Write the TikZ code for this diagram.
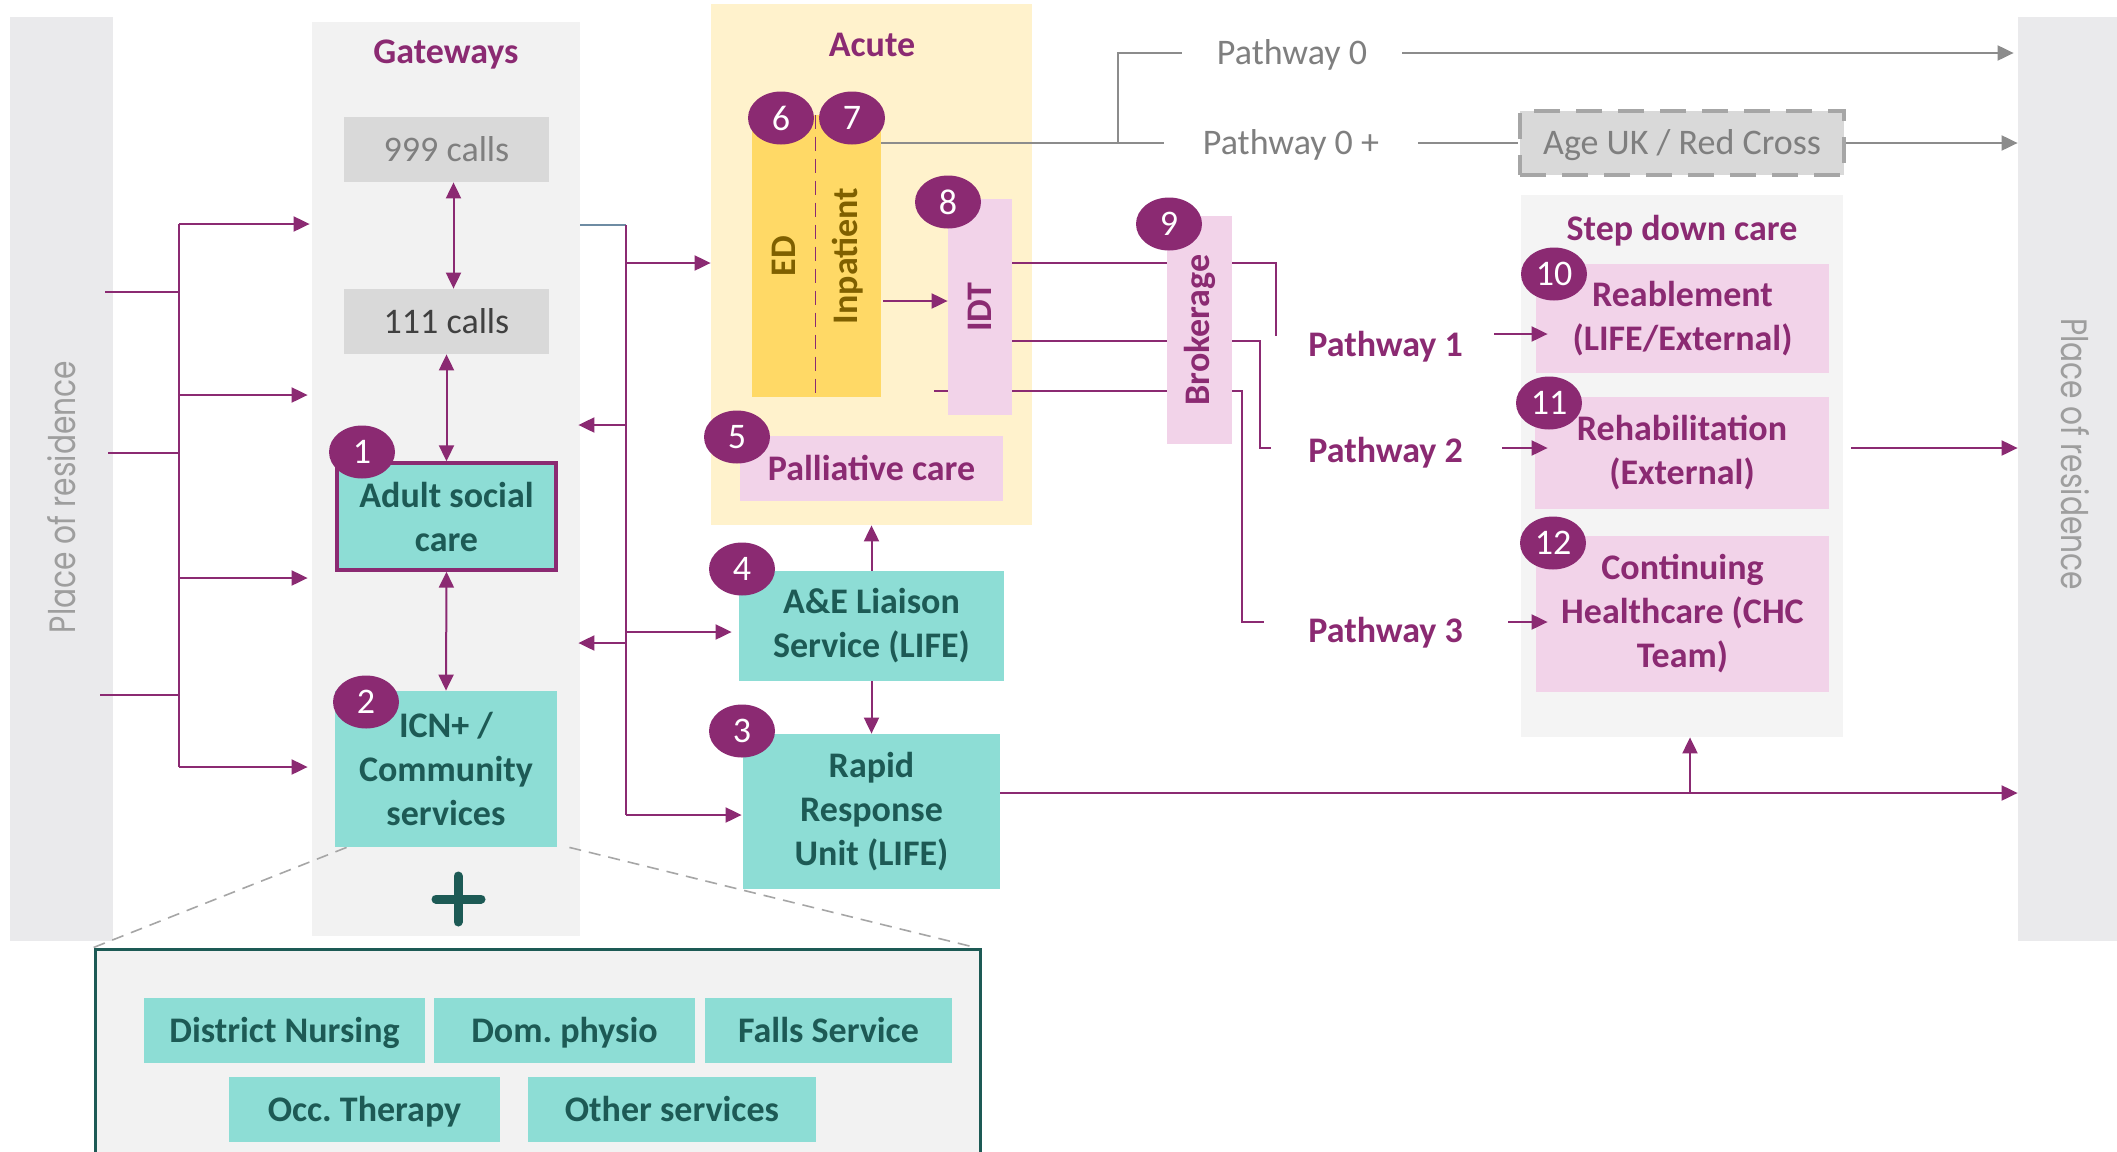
\documentclass[tikz,border=0pt]{standalone}
\usepackage{fontspec}
\usepackage{graphicx}
\setmainfont{Carlito}
\newfontfamily\residencefont{Poppins}
\usetikzlibrary{arrows.meta,shapes.geometric}

\pgfdeclarelayer{panels}
\pgfdeclarelayer{wires}
\pgfsetlayers{panels,wires,main}

\definecolor{plum}{HTML}{8B2A72}
\definecolor{tealfill}{HTML}{8DDDD5}
\definecolor{tealtext}{HTML}{1D5A55}
\definecolor{pinkfill}{HTML}{F2D3E9}
\definecolor{acutefill}{HTML}{FFF2CC}
\definecolor{edfill}{HTML}{FFD966}
\definecolor{edtext}{HTML}{7F6000}
\definecolor{panelgray}{HTML}{F2F2F2}
\definecolor{stepgray}{HTML}{F4F4F4}
\definecolor{bargray}{HTML}{EAEAEC}
\definecolor{callgray}{HTML}{D9D9D9}
\definecolor{wiregray}{HTML}{8C8C8C}
\definecolor{greytext}{HTML}{7F7F7F}
\definecolor{darktext}{HTML}{404040}
\definecolor{dashgray}{HTML}{A6A6A6}
\definecolor{resgray}{HTML}{9E9E9E}
\definecolor{slate}{HTML}{6E8CA3}

% box given by its corners (x1,y1) and (x2,y2) in pixel units
\newcommand\rectnode[7]{%
  \node[#6, minimum width={(#4-#2)*0.5pt}, minimum height={(#5-#3)*0.5pt}]
    (#1) at ({(#2+#4)/2},{(#3+#5)/2}) {#7};}

\newcommand\bodyfont{\fontsize{18}{22}\selectfont}

\tikzset{
  txt/.style={inner sep=0pt, align=center, font=\bodyfont},
  oneline/.style={text height=11.6pt, text depth=0pt},
  panelbox/.style={inner sep=0pt, fill=#1},
  tealbox/.style={txt, fill=tealfill, text=tealtext, font=\bodyfont\bfseries},
  pinkbox/.style={txt, fill=pinkfill, text=plum, font=\bodyfont\bfseries},
  callbox/.style={txt, oneline, fill=callgray, text=#1},
  badge/.style={ellipse, fill=plum, text=white, inner sep=0pt,
    minimum width=33pt, minimum height=26.5pt, font=\bodyfont},
  heading/.style={inner sep=0pt, anchor=base, text=plum, font=\bodyfont\bfseries},
  pathlbl/.style={inner sep=0pt, anchor=west, oneline, text=plum, font=\bodyfont\bfseries},
  greylbl/.style={inner ysep=0pt, oneline, text=greytext, font=\bodyfont},
  vlabel/.style={inner sep=0pt, rotate=90, font=\bodyfont\bfseries, text=#1},
  wire/.style={draw=plum, line width=1pt},
  fwd/.style={wire, -{Triangle[length=8pt,width=7.5pt]}},
  twoway/.style={wire, {Triangle[length=8pt,width=7.5pt]}-{Triangle[length=8pt,width=7.5pt]}},
  greywire/.style={draw=wiregray, line width=1pt},
  greyfwd/.style={greywire, -{Triangle[length=8pt,width=7.5pt]}},
  zoomline/.style={draw=dashgray, line width=0.8pt, dash pattern=on 6pt off 4pt},
}

\begin{document}
\begin{tikzpicture}[x=0.5pt,y=-0.5pt]
\useasboundingbox (0,0) rectangle (2117,1152);

% ---------- background panels ----------
\begin{pgfonlayer}{panels}
  \fill[white] (0,0) rectangle (2117,1152);
  \rectnode{lbar}{10}{17}{113}{941}{panelbox=bargray}{}
  \rectnode{rbar}{2018}{17}{2117}{941}{panelbox=bargray}{}
  \rectnode{gw}{312}{22}{580}{936}{panelbox=panelgray}{}
  \rectnode{acute}{711}{4}{1032}{525}{panelbox=acutefill}{}
  \rectnode{sdc}{1521}{195}{1843}{737}{panelbox=stepgray}{}
  \rectnode{extra}{95}{949}{980}{1175}{panelbox=panelgray, draw=tealtext, line width=1.5pt}{}
\end{pgfonlayer}

% side labels
\node[rotate=90, inner sep=0pt, text=resgray] (lres) at (62,497)
  {\residencefont\resizebox{136pt}{14pt}{Place of residence}};
\node[rotate=-90, inner sep=0pt, text=resgray] (rres) at (2075,454)
  {\residencefont\resizebox{136pt}{14pt}{Place of residence}};

% headings
\node[heading] (gwtitle) at (446,63) {Gateways};
\node[heading] (acutetitle) at (872,56) {Acute};
\node[heading] (sdctitle) at (1682,240) {Step down care};

% ---------- gateways column ----------
\rectnode{c999}{344}{117}{549}{182}{callbox=greytext}{999 calls}
\rectnode{c111}{344}{289}{549}{354}{callbox=darktext}{111 calls}
\rectnode{asc}{337}{463}{556}{570}{tealbox, draw=plum, line width=1.7pt}{Adult social\\care}
\rectnode{icn}{335}{691}{557}{847}{tealbox}{ICN+ /\\Community\\services}
\draw[tealtext, line width=4.5pt, line cap=round] (436,899) -- (481,899) (458,876) -- (458,922);

% ---------- acute and LIFE services ----------
\rectnode{ed}{752}{115}{815}{397}{fill=edfill, inner sep=0pt}{}
\rectnode{inp}{815}{115}{881}{397}{fill=edfill, inner sep=0pt}{}
\draw[plum, line width=0.8pt, dash pattern=on 7pt off 4pt] (ed.north east) -- (ed.south east);
\node[vlabel=edtext] (edlbl) at (ed) {ED};
\node[vlabel=edtext] (inplbl) at (inp) {Inpatient};
\rectnode{idt}{948}{199}{1012}{415}{pinkbox}{}
\node[vlabel=plum] (idtlbl) at (idt) {IDT};
\rectnode{pall}{740}{436}{1003}{501}{pinkbox, oneline}{Palliative care}
\rectnode{ae}{739}{571}{1004}{681}{tealbox}{A\&E Liaison\\Service (LIFE)}
\rectnode{rru}{743}{734}{1000}{889}{tealbox}{Rapid\\Response\\Unit (LIFE)}
\rectnode{brok}{1167}{216}{1232}{444}{pinkbox}{}
\node[vlabel=plum] (broklbl) at (brok) {Brokerage};

% ---------- pathways ----------
\node[greylbl, inner xsep=17.5pt] (pz) at (1292,53) {Pathway 0};
\node[greylbl, inner xsep=19.5pt] (pzp) at (1291,143) {Pathway 0 +};
\rectnode{ageuk}{1520}{111}{1844}{175}{callbox=greytext, draw=dashgray, line width=1.7pt, dash pattern=on 13pt off 8pt}{Age UK / Red Cross}
\node[pathlbl] (pw1) at (1308,344.5) {Pathway 1};
\node[pathlbl] (pw2) at (1308,451) {Pathway 2};
\node[pathlbl] (pw3) at (1308,631) {Pathway 3};

% step down care
\rectnode{reab}{1536}{264}{1829}{373}{pinkbox}{Reablement\\(LIFE/External)}
\rectnode{rehab}{1535}{397}{1829}{509}{pinkbox}{Rehabilitation\\(External)}
\rectnode{chc}{1536}{536}{1829}{692}{pinkbox}{Continuing\\Healthcare (CHC\\Team)}

% ---------- community services detail ----------
\rectnode{dn}{144}{998}{425}{1063}{tealbox, oneline}{District Nursing}
\rectnode{dp}{434}{998}{695}{1063}{tealbox, oneline}{Dom.\ physio}
\rectnode{fs}{705}{998}{952}{1063}{tealbox, oneline}{Falls Service}
\rectnode{ot}{229}{1077}{500}{1142}{tealbox, oneline}{Occ.\ Therapy}
\rectnode{os}{528}{1077}{816}{1142}{tealbox, oneline}{Other services}

% ---------- connectors ----------
% entry from place of residence
\coordinate (ltop) at (179,224);
\coordinate (lbot) at (179,767);
\coordinate (src1) at (105,292);
\coordinate (src2) at (108,453);
\coordinate (src3) at (100,695);
\coordinate (lj2) at (179,395);
\coordinate (lj3) at (179,578);
\draw[wire] (ltop) -- (lbot);
\draw[wire] (src1) -- (src1 -| ltop);
\draw[wire] (src2) -- (src2 -| ltop);
\draw[wire] (src3) -- (src3 -| ltop);
\draw[fwd, shorten >=1pt] (ltop) -- (ltop -| gw.west);
\draw[fwd, shorten >=2pt] (lj2) -- (lj2 -| gw.west);
\draw[fwd, shorten >=2pt] (lj3) -- (lj3 -| gw.west);
\draw[fwd, shorten >=2pt] (lbot) -- (lbot -| gw.west);

% within gateways
\draw[twoway] ([xshift=3.5pt]c999.south) -- ([xshift=3.5pt]c111.north);
\draw[twoway] (c111.south) -- (asc.north);
\draw[twoway] (asc.south) -- (icn.north);

% gateways to acute / LIFE
\coordinate (mtop) at (626,225);
\coordinate (mbot) at (626,815);
\coordinate (m1) at (626,263);
\coordinate (m2) at (626,425);
\coordinate (m3) at (626,632);
\coordinate (m4) at (626,643);
\draw[draw=slate, line width=1pt] (gw.east |- mtop) -- (mtop);
\draw[wire] (mtop) -- (mbot);
\draw[fwd] (m1) -- (m1 -| acute.west);
\draw[fwd, shorten >=-1pt] (m2) -- (m2 -| gw.east);
\draw[fwd, shorten >=3.5pt] (m3) -- (m3 -| ae.west);
\draw[fwd, shorten >=-1pt] (m4) -- (m4 -| gw.east);
\draw[fwd, shorten >=0.5pt] (mbot) -- (mbot -| rru.west);
\draw[fwd] (ae.north) -- (ae.north |- acute.south);
\draw[fwd] (ae.south) -- (ae.south |- rru.north);

\coordinate (ipo) at ([yshift=-22.5pt]inp.east);
\draw[fwd, shorten <=1pt] (ipo) -- (ipo -| idt.west);

% discharge routes through brokerage
\coordinate (e1) at (1276,336);
\coordinate (e2) at (1271,448);
\coordinate (e3) at (1264,622);
\coordinate (s3) at (934,391);
\begin{pgfonlayer}{wires}
  \draw[wire] (idt.east |- 0,263) -| (e1);
  \draw[wire] (idt.east |- 0,341) -- (1260,341) -- (1260,448) -- (e2);
  \draw[wire] (s3) -- (1242,391) -- (1242,622) -- (e3);
  % zoom-out guides for community services
  \draw[zoomline] ([xshift=6pt]icn.south west) -- (extra.north west);
  \draw[zoomline] ([xshift=6pt]icn.south east) -- ([xshift=-3pt]extra.north east);
\end{pgfonlayer}

% pathway 0 routes
\coordinate (gsplit) at (1118,143);
\draw[greywire] (inp.east |- pzp.west) -- (pzp.west);
\draw[greywire] (gsplit) |- (pz.west);
\draw[greyfwd, shorten >=2pt] (pz.east) -- (pz.east -| rbar.west);
\draw[greywire] (pzp.east) -- (pzp.east -| ageuk.west);
\draw[greyfwd] (ageuk.east |- pzp.east) -- (rbar.west |- pzp.east);

% pathways into step down care
\coordinate (a1) at (1494,334);
\coordinate (a2) at (1502,448);
\coordinate (a3) at (1508,622);
\draw[fwd, shorten >=-6pt] (a1) -- (a1 -| reab.west);
\draw[fwd, shorten >=-6.5pt] (a2) -- (a2 -| rehab.west);
\draw[fwd, shorten >=-6pt] (a3) -- (a3 -| chc.west);

% back to place of residence
\coordinate (r0) at (1851,448);
\draw[fwd] (r0) -- (r0 -| rbar.west);
\coordinate (rr) at (1000,793);
\coordinate (up) at (1690,793);
\draw[fwd] (rr) -- (rr -| rbar.west);
\draw[fwd] (up) -- (up |- sdc.south);

% ---------- numbered badges ----------
\node[badge] (b1) at (362,452) {1};
\node[badge] (b2) at (366,702) {2};
\node[badge] (b3) at (742,731) {3};
\node[badge] (b4) at (742,569) {4};
\node[badge] (b5) at (737,437) {5};
\node[badge] (b6) at (781,118) {6};
\node[badge] (b7) at (852,118) {7};
\node[badge] (b8) at (948,202) {8};
\node[badge] (b9) at (1169,224) {9};
\node[badge] (b10) at (1554,274) {10};
\node[badge] (b11) at (1549,403) {11};
\node[badge] (b12) at (1553,543) {12};
\end{tikzpicture}
\end{document}
